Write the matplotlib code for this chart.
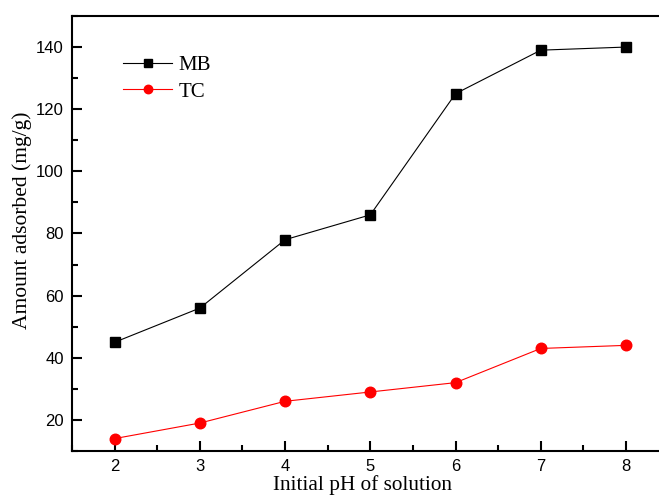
import matplotlib
matplotlib.use("Agg")
import matplotlib.pyplot as plt
from matplotlib.ticker import MultipleLocator

# data
ph = [2, 3, 4, 5, 6, 7, 8]
mb = [45, 56, 78, 86, 125, 139, 140]
tc = [14, 19, 26, 29, 32, 43, 44]

fig = plt.figure(figsize=(6.59, 5.01), dpi=100)
# right spine sits just outside the picture, like the original
ax = fig.add_axes([0.1093, 0.0998, 0.9053, 0.8683])

ax.plot(ph, mb, "-s", color="k", linewidth=0.8, markersize=7.3, label="MB")
ax.plot(ph, tc, "-o", color="red", linewidth=0.8, markersize=7.6, label="TC")

ax.set_xlim(1.5, 8.5)
ax.set_ylim(10, 150)
ax.xaxis.set_major_locator(MultipleLocator(1))
ax.xaxis.set_minor_locator(MultipleLocator(0.5))
ax.yaxis.set_minor_locator(MultipleLocator(10))
ax.set_yticks([20, 40, 60, 80, 100, 120, 140])

ax.tick_params(which="both", direction="in", top=False, right=False, width=1.5)
ax.tick_params(which="major", length=7, labelsize=12, pad=6)
ax.tick_params(which="minor", length=4)
for lab in ax.get_xticklabels() + ax.get_yticklabels():
    lab.set_family("Liberation Sans")
for sp in ax.spines.values():
    sp.set_linewidth(1.5)
ax.spines["right"].set_visible(False)

ax.set_xlabel("Initial pH of solution", family="Liberation Serif", fontsize=15.3)
ax.set_ylabel("Amount adsorbed (mg/g)", family="Liberation Serif", fontsize=15.5)
ax.xaxis.set_label_coords(0.487, -0.055)
ax.yaxis.set_label_coords(-0.067, 0.531)

leg = ax.legend(loc="upper left", bbox_to_anchor=(0.0855, 0.909), frameon=False,
                prop={"family": "Liberation Serif", "size": 15},
                handlelength=2.35, handletextpad=0.3, labelspacing=0.33,
                borderpad=0, borderaxespad=0, markerscale=0.8)

plt.savefig("out.png", dpi=100)
plt.close()
